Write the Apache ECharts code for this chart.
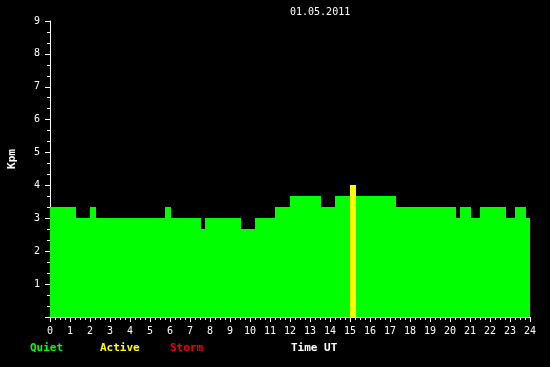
<!DOCTYPE html>
<html>
<head>
<meta charset="utf-8">
<script src="https://cdn.jsdelivr.net/npm/echarts@6/dist/echarts.min.js"></script>
<style>html,body{margin:0;padding:0;background:#000;}#c{width:550px;height:367px;}</style>
</head>
<body>
<div id="c"></div>
<script>
// Segment start times (hours UT), segment end times, and Kpm values
var segStart = [0, 1.3, 2.0, 2.3, 5.75, 6.05, 7.55, 7.75, 9.55, 10.25, 11.25, 12.0, 13.55, 14.25, 15.0, 15.3, 17.3, 20.3, 20.5, 21.05, 21.5, 22.8, 23.25, 23.8];
var segEnd   = [1.3, 2.0, 2.3, 5.75, 6.05, 7.55, 7.75, 9.55, 10.25, 11.25, 12.0, 13.55, 14.25, 15.0, 15.3, 17.3, 20.3, 20.5, 21.05, 21.5, 22.8, 23.25, 23.8, 24];
var kpm      = [3.333, 3.0, 3.333, 3.0, 3.333, 3.0, 2.667, 3.0, 2.667, 3.0, 3.333, 3.667, 3.333, 3.667, 4.0, 3.667, 3.333, 3.0, 3.333, 3.0, 3.333, 3.0, 3.333, 3.0];
var dateLabel = '01.05.2011';
var legendLabels = ['Quiet', 'Active', 'Storm'];
var legendColors = ['#00ff00', '#ffff00', '#ff0000'];

var data = segStart.map(function (s, i) { return [s, segEnd[i], kpm[i]]; });
var FONT = '"DejaVu Sans Mono", monospace';

var chart = echarts.init(document.getElementById('c'));
chart.setOption({
  backgroundColor: '#000000',
  animation: false,
  grid: { left: 50, right: 20, top: 21, bottom: 50 },
  xAxis: {
    type: 'value', min: 0, max: 24, interval: 1,
    axisLine: { lineStyle: { color: '#ffffff', width: 1 } },
    axisTick: { length: 5, lineStyle: { color: '#ffffff' } },
    minorTick: { show: true, splitNumber: 4, length: 3, lineStyle: { color: '#ffffff' } },
    splitLine: { show: false },
    axisLabel: { color: '#ffffff', fontFamily: FONT, fontSize: 10, margin: 9 }
  },
  yAxis: {
    type: 'value', min: 0, max: 9, interval: 1,
    axisLine: { show: true, lineStyle: { color: '#ffffff', width: 1 } },
    axisTick: { show: true, length: 5, lineStyle: { color: '#ffffff' } },
    minorTick: { show: true, splitNumber: 3, length: 3, lineStyle: { color: '#ffffff' } },
    splitLine: { show: false },
    axisLabel: { color: '#ffffff', fontFamily: FONT, fontSize: 10, margin: 10,
      formatter: function (v) { return v === 0 ? '' : String(v); } }
  },
  series: [{
    type: 'custom',
    data: data,
    encode: { x: [0, 1], y: 2 },
    renderItem: function (params, api) {
      var p0 = api.coord([api.value(0), api.value(2)]);
      var p1 = api.coord([api.value(1), 0]);
      var v = api.value(2);
      var col = v >= 5 ? legendColors[2] : (v >= 4 ? legendColors[1] : legendColors[0]);
      var x0 = Math.round(p0[0]), x1 = Math.round(p1[0]);
      var y0 = Math.round(p0[1]), y1 = Math.round(p1[1]);
      return { type: 'rect', shape: { x: x0, y: y0, width: x1 - x0, height: y1 - y0 },
        style: { fill: col } };
    }
  }],
  graphic: [
    { type: 'text', left: 290, top: 7, style: { text: dateLabel, fill: '#ffffff', font: '10px ' + FONT } },
    { type: 'text', x: 12, y: 159, rotation: Math.PI / 2,
      style: { text: 'Kpm', fill: '#ffffff', font: 'bold 11px ' + FONT, align: 'center', verticalAlign: 'middle' } },
    { type: 'text', left: 30, top: 343, style: { text: legendLabels[0], fill: legendColors[0], font: 'bold 11px ' + FONT } },
    { type: 'text', left: 100, top: 343, style: { text: legendLabels[1], fill: legendColors[1], font: 'bold 11px ' + FONT } },
    { type: 'text', left: 170, top: 343, style: { text: legendLabels[2], fill: legendColors[2], font: 'bold 11px ' + FONT } },
    { type: 'text', left: 291, top: 343, style: { text: 'Time UT', fill: '#ffffff', font: 'bold 11px ' + FONT } }
  ]
});
</script>
</body>
</html>
